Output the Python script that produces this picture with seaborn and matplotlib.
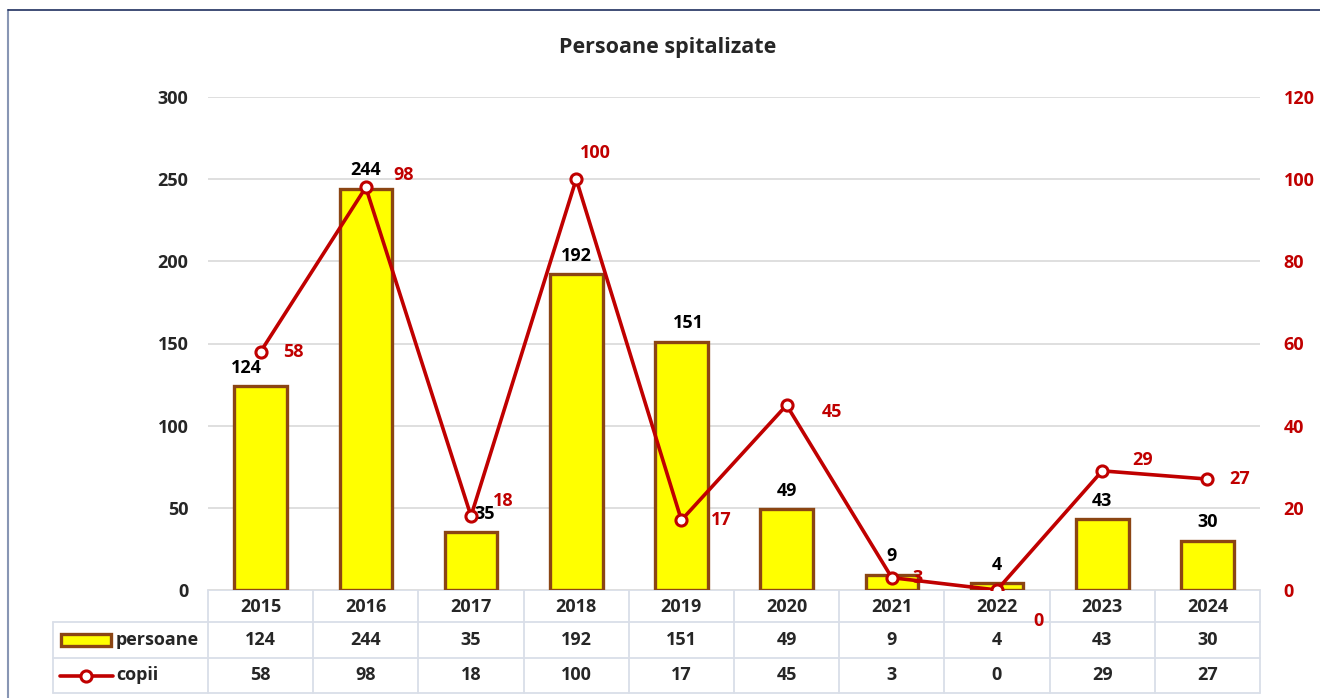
import seaborn as sns
import matplotlib.pyplot as plt
from matplotlib.lines import Line2D
from matplotlib.patches import Rectangle
import numpy as np

# date din grafic
ani = ["2015", "2016", "2017", "2018", "2019", "2020", "2021", "2022", "2023", "2024"]
persoane = [124, 244, 35, 192, 151, 49, 9, 4, 43, 30]
copii = [58, 98, 18, 100, 17, 45, 3, 0, 29, 27]

W, H = 1320, 698
galben = "#FFFF00"
maro = "#8B4513"
rosu = "#C00000"
gri = "#D9DEE8"
fs = 13

sns.set_style("white")
plt.rcParams['font.family'] = ['Open Sans', 'DejaVu Sans']
plt.rcParams['font.weight'] = 'bold'

fig = plt.figure(figsize=(W / 100, H / 100), dpi=100)


def fx(px):
    return px / W


def fy(py):
    return 1 - py / H


x0, x1, ytop, ybot = 208, 1260, 97, 590
ax = fig.add_axes([fx(x0), fy(ybot), fx(x1) - fx(x0), fy(ytop) - fy(ybot)])
ax2 = ax.twinx()

sns.barplot(x=ani, y=persoane, ax=ax, color=galben, edgecolor=maro,
            linewidth=2.4, width=0.5, saturation=1, zorder=3)
ax.set_ylim(0, 300)
ax.set_xlim(-0.5, len(ani) - 0.5)
ax.set_yticks(range(0, 301, 50))
ax.yaxis.grid(True, color="#D9D9D9", linewidth=1.2, zorder=0)
ax.set_axisbelow(True)
ax.tick_params(axis="y", labelsize=fs, length=0, pad=14)
for t in ax.get_yticklabels():
    t.set_fontweight("bold")
ax.set_xticks([])
ax.set_xlabel("")
ax.set_ylabel("")
for s in ax.spines.values():
    s.set_visible(False)

poz = np.arange(len(ani))
sns.lineplot(x=poz, y=copii, ax=ax2, color=rosu, linewidth=2.6, marker="o",
             markersize=8, markerfacecolor="white", markeredgecolor=rosu,
             markeredgewidth=2.2, zorder=5)
ax2.set_ylim(0, 120)
ax2.set_yticks(range(0, 121, 20))
ax2.tick_params(axis="y", labelsize=fs, length=0, pad=17, labelcolor=rosu)
for t in ax2.get_yticklabels():
    t.set_fontweight("bold")
ax2.set_ylabel("")
for s in ax2.spines.values():
    s.set_visible(False)

# etichete bare
dx_bar = {0: -10, 2: 10, 4: 5}
for i, v in enumerate(persoane):
    ax.annotate(str(v), (i, v), xytext=(dx_bar.get(i, 0), 7), textcoords="offset points",
                ha="center", va="bottom", fontsize=fs, fontweight="bold", color="black", zorder=6)

# etichete linie (offset in puncte, aliniere)
off = {0: (16, 0, "left"), 1: (20, 9, "left"), 2: (16, 11, "left"), 3: (14, 19, "center"),
       4: (21, 0, "left"), 5: (25, -5, "left"), 6: (15, 0, "left"), 7: (30, -22, "center"),
       8: (22, 8, "left"), 9: (16, 0, "left")}
for i, v in enumerate(copii):
    dx, dy, ha = off[i]
    ax2.annotate(str(v), (i, v), xytext=(dx, dy), textcoords="offset points",
                 ha=ha, va="center", fontsize=fs, fontweight="bold", color=rosu,
                 zorder=4, annotation_clip=False)

fig.text(fx(668), fy(48), "Persoane spitalizate", ha="center", va="center",
         fontsize=15.5, fontweight="bold")

# tabel de date
slot = (x1 - x0) / len(ani)
r0, r1, r2, r3 = 590, 622, 658, 693
tl = 53
lw = 1.3
linii = []
linii.append(Line2D([fx(x0), fx(x1)], [fy(r0), fy(r0)], color=gri, lw=lw, zorder=-1))
for r in (r1, r2, r3):
    linii.append(Line2D([fx(tl), fx(x1)], [fy(r), fy(r)], color=gri, lw=lw, zorder=-1))
linii.append(Line2D([fx(tl), fx(tl)], [fy(r1), fy(r3)], color=gri, lw=lw, zorder=-1))
for k in range(len(ani) + 1):
    xx = x0 + k * slot
    linii.append(Line2D([fx(xx), fx(xx)], [fy(r0), fy(r3)], color=gri, lw=lw, zorder=-1))
for ln in linii:
    fig.add_artist(ln)

for k, an in enumerate(ani):
    cx = x0 + (k + 0.5) * slot
    fig.text(fx(cx), fy((r0 + r1) / 2 + 1), an, ha="center", va="center", fontsize=fs, fontweight="bold")
    fig.text(fx(cx), fy((r1 + r2) / 2), str(persoane[k]), ha="center", va="center", fontsize=fs, fontweight="bold")
    fig.text(fx(cx), fy((r2 + r3) / 2), str(copii[k]), ha="center", va="center", fontsize=fs, fontweight="bold")

# chei legenda
fig.add_artist(Rectangle((fx(61), fy(646)), fx(111) - fx(61), fy(634) - fy(646),
                         transform=fig.transFigure, facecolor=galben, edgecolor=maro, lw=2.4))
fig.text(fx(116), fy(640), "persoane", ha="left", va="center", fontsize=fs, fontweight="bold")
fig.add_artist(Line2D([fx(60), fx(113)], [fy(676), fy(676)], color=rosu, lw=2.6))
fig.add_artist(Line2D([fx(86)], [fy(676)], color=rosu, lw=0, marker="o", markersize=8,
                      markerfacecolor="white", markeredgecolor=rosu, markeredgewidth=2.2))
fig.text(fx(116), fy(675), "copii", ha="left", va="center", fontsize=fs, fontweight="bold")

# chenar
fig.add_artist(Line2D([fx(8), fx(8)], [fy(10), 0], color="#8896B4", lw=1.5))
fig.add_artist(Line2D([fx(8), 1], [fy(10), fy(10)], color="#1F2F5F", lw=1.2))

fig.savefig("out.png", dpi=100)
